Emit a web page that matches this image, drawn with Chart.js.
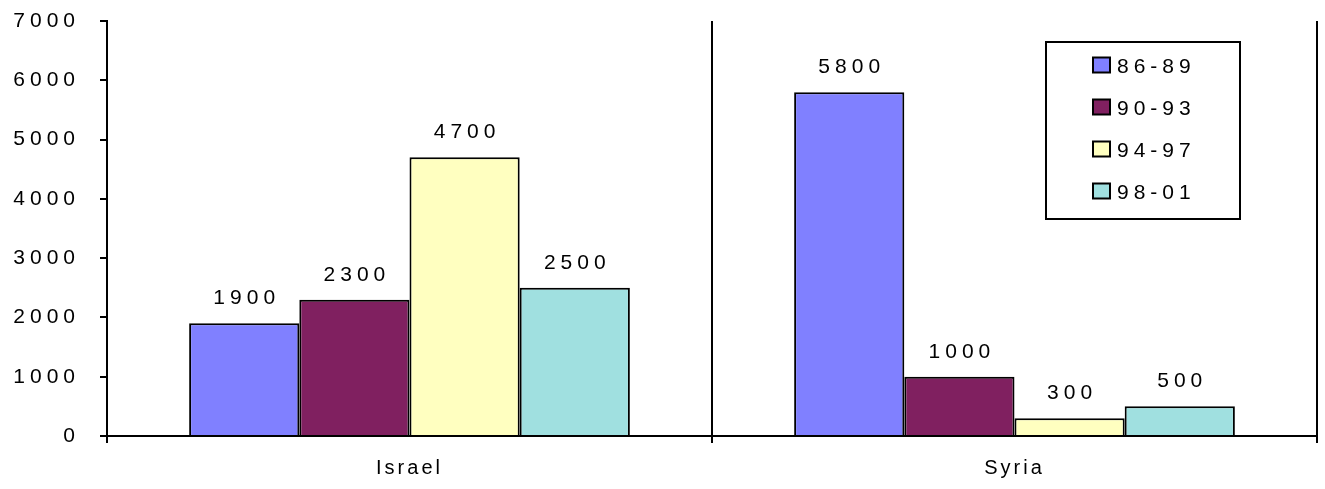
<!DOCTYPE html>
<html>
<head>
<meta charset="utf-8">
<script src="https://cdn.jsdelivr.net/npm/chart.js@4"></script>
<style>
  body { margin: 0; background: #fff; }
  #wrap { width: 1325px; height: 489px; }
</style>
</head>
<body>
<div id="wrap"><canvas id="arms"></canvas></div>
<script>
// values
const countries = ["Israel", "Syria"];
const periods = ["86-89", "90-93", "94-97", "98-01"];
const colors = ["#8080FF", "#802060", "#FFFFC0", "#A0E0E0"];
const v8689 = [1900, 5800];
const v9093 = [2300, 1000];
const v9497 = [4700, 300];
const v9801 = [2500, 500];
const yTicks = [0, 1000, 2000, 3000, 4000, 5000, 6000, 7000];

const FAMILY = "'Liberation Sans', Arial, sans-serif";
const FONT = "21px " + FAMILY;
const SPACING = 5;

const seriesValues = [v8689, v9093, v9497, v9801];

// spaced-out lettering like the old Excel chart
const spacing = {
  id: "spacing",
  beforeDraw(chart) {
    chart.ctx.letterSpacing = SPACING + "px";
  },
  afterLayout(chart) {
    // category names are a bit tighter than the numbers
    const xs = chart.scales.x;
    if (xs._tight) return;
    const orig = xs.drawLabels.bind(xs);
    xs.drawLabels = function (area) {
      chart.ctx.save();
      chart.ctx.letterSpacing = "3px";
      orig(area);
      chart.ctx.restore();
    };
    xs._tight = true;
  }
};

// value above each bar
const barLabels = {
  id: "barLabels",
  afterDatasetsDraw(chart) {
    const ctx = chart.ctx;
    ctx.save();
    ctx.font = FONT;
    ctx.fillStyle = "#000";
    ctx.textAlign = "center";
    ctx.textBaseline = "alphabetic";
    chart.data.datasets.forEach((ds, i) => {
      chart.getDatasetMeta(i).data.forEach((bar, j) => {
        ctx.fillText(String(ds.data[j]), bar.x + SPACING / 2, bar.y - 19);
      });
    });
    ctx.restore();
  }
};

// boxed legend in the top right corner
const boxLegend = {
  id: "boxLegend",
  afterDraw(chart) {
    const ctx = chart.ctx;
    ctx.save();
    ctx.lineWidth = 2;
    ctx.strokeStyle = "#000";
    ctx.strokeRect(1046, 42, 194, 177);
    ctx.font = FONT;
    ctx.textAlign = "left";
    ctx.textBaseline = "alphabetic";
    chart.data.datasets.forEach((ds, i) => {
      const cy = 65 + i * 42;
      ctx.fillStyle = ds.backgroundColor;
      ctx.fillRect(1093, cy - 7.5, 17, 15);
      ctx.strokeRect(1093, cy - 7.5, 17, 15);
      ctx.fillStyle = "#000";
      ctx.fillText(ds.label, 1117, cy + 7.5);
    });
    ctx.restore();
  }
};

new Chart(document.getElementById("arms"), {
  type: "bar",
  data: {
    labels: countries,
    datasets: periods.map((p, i) => ({
      label: p,
      data: seriesValues[i],
      backgroundColor: colors[i],
      borderColor: "#000",
      borderWidth: 2,
      categoryPercentage: 0.7285,
      barPercentage: 1
    }))
  },
  options: {
    responsive: true,
    maintainAspectRatio: false,
    animation: false,
    layout: { autoPadding: false, padding: { top: 21, right: 8, left: 0, bottom: 0 } },
    plugins: {
      legend: { display: false },
      tooltip: { enabled: false }
    },
    scales: {
      x: {
        grid: {
          offset: true,
          color: "#000",
          lineWidth: 2,
          tickLength: 7,
          drawOnChartArea: true
        },
        border: { color: "#000", width: 2 },
        ticks: {
          color: "#000",
          font: { family: FAMILY, size: 20 },
          padding: 13
        },
        afterFit(scale) { scale.height = 53; }
      },
      y: {
        min: 0,
        max: 7000,
        afterBuildTicks(scale) {
          scale.ticks = yTicks.map(v => ({ value: v }));
        },
        grid: {
          drawOnChartArea: false,
          color: "#000",
          lineWidth: 2,
          tickLength: 7
        },
        border: { color: "#000", width: 2 },
        ticks: {
          color: "#000",
          font: { family: FAMILY, size: 21 },
          padding: 20,
          callback: v => String(v)
        },
        afterFit(scale) {
          scale.width = 107;
          scale.paddingTop = 0;
          scale.paddingBottom = 0;
        }
      }
    }
  },
  plugins: [spacing, barLabels, boxLegend]
});
</script>
</body>
</html>
